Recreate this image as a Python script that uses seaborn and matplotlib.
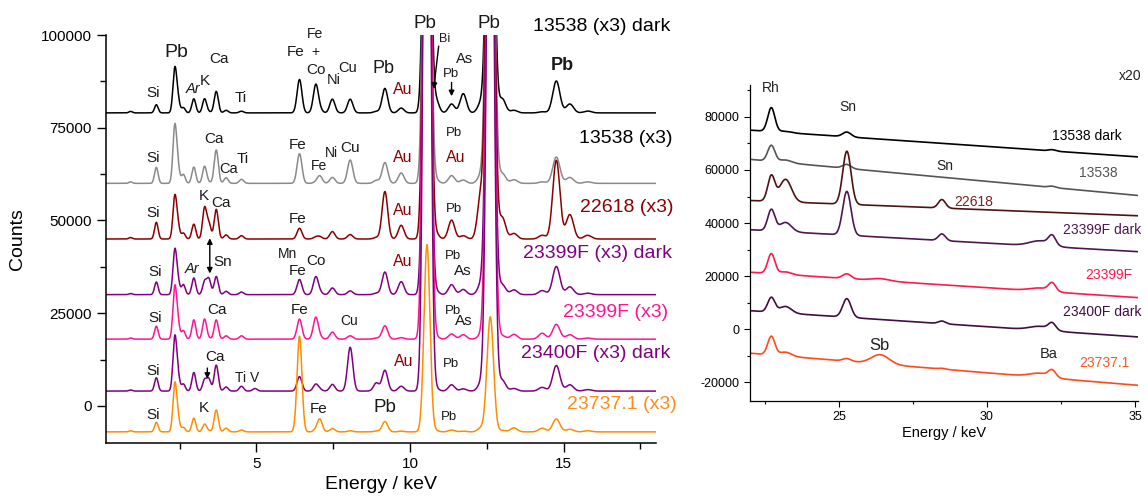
import numpy as np
import pandas as pd
import matplotlib.pyplot as plt
import seaborn as sns

sns.set_theme(style='ticks')
plt.rcParams['font.family'] = ['Liberation Sans', 'DejaVu Sans']
plt.rcParams['axes.unicode_minus'] = False

# ---- left panel: XRF spectra, 0-18 keV (peak energies and heights)
samples = ['13538 (x3) dark', '13538 (x3)', '22618 (x3)', '23399F (x3) dark',
           '23399F (x3)', '23400F (x3) dark', '23737.1 (x3)']
offsets = [79000, 60000, 45000, 30000, 18000, 4000, -7000]

lines_keV = [0.9, 1.74, 2.34, 2.44, 2.62, 2.96, 3.31, 3.45, 3.69, 4.01, 4.51, 4.95,
             6.40, 6.93, 7.06, 7.47, 8.05, 8.90, 9.18, 9.71, 10.55, 10.84, 11.35,
             11.73, 12.30, 12.61, 13.00, 13.38, 14.30, 14.76, 15.20, 15.78]

h_13538_dark = [400, 2200, 11500, 3500, 1400, 3800, 3800, 300, 5800, 700, 450, 0,
                9000, 7500, 900, 3700, 3700, 400, 6600, 1300, 150000, 3500, 2400,
                5200, 2500, 130000, 3800, 700, 300, 8600, 2400, 500]
h_13538 = [400, 4300, 15000, 4000, 2400, 4400, 4600, 300, 9000, 1500, 1100, 0,
           8000, 300, 2000, 1600, 6300, 800, 5600, 2800, 200000, 1000, 2100,
           900, 2000, 180000, 2700, 1000, 400, 7100, 1600, 400]
h_22618 = [400, 4500, 11000, 3500, 1600, 4000, 8300, 4100, 8000, 1100, 900, 0,
           2900, 500, 600, 2000, 1200, 400, 12800, 3700, 220000, 1500, 5100,
           900, 11500, 200000, 5800, 1500, 1000, 21200, 6600, 1000]
h_23399F_dark = [300, 3400, 11500, 3500, 2700, 4500, 3500, 4200, 4900, 900, 700, 0,
                 4100, 4700, 600, 1800, 1000, 400, 6100, 3500, 220000, 1000, 2700,
                 1400, 2500, 200000, 2700, 1300, 1100, 7600, 2100, 400]
h_23399F = [300, 3500, 13500, 4000, 2300, 5200, 5400, 300, 5200, 900, 900, 0,
            5400, 5800, 500, 1900, 900, 300, 3600, 400, 300000, 700, 1400,
            1200, 1000, 200000, 900, 1300, 1600, 4000, 1200, 300]
h_23400F_dark = [300, 3600, 14000, 4000, 1900, 5000, 3000, 3200, 7000, 1100, 1300, 700,
                 3900, 1800, 400, 1800, 11800, 2200, 5600, 1300, 260000, 700, 1700,
                 600, 1800, 200000, 2900, 700, 1000, 6900, 1700, 400]
h_23737 = [300, 2600, 12500, 3500, 1200, 3700, 2100, 300, 5900, 1000, 500, 0,
           25800, 400, 3400, 900, 300, 200, 2800, 200, 50500, 300, 500,
           200, 1000, 31000, 400, 1100, 1000, 3500, 700, 300]
left_heights = [h_13538_dark, h_13538, h_22618, h_23399F_dark, h_23399F, h_23400F_dark, h_23737]
left_colors = ['#000000', '#8a8a8a', '#8b0000', '#800080', '#ff1493', '#800080', '#ff8c00']
label_colors = ['#000000', '#000000', '#8b0000', '#800080', '#ff1493', '#800080', '#ff8c1a']

# ---- right panel: 22-35 keV, x20
r_samples = ['13538 dark', '13538', '22618', '23399F dark', '23399F', '23400F dark', '23737.1']
r_lines = [22.72, 23.20, 25.27, 26.40, 28.48, 31.80, 32.20]
r_bg_start = [75000, 64000, 48500, 37500, 21500, 7000, -9000]
r_bg_end = [65000, 50500, 42800, 29300, 12000, -2800, -21000]
r_h_13538_dark = [9000, 500, 1800, 0, 0, 0, 500]
r_h_13538 = [6000, 1000, 1500, 0, 0, 0, 500]
r_h_22618 = [9500, 8500, 20000, 0, 3200, 0, 0]
r_h_23399F_dark = [8000, 3500, 16500, 0, 2500, 2000, 3500]
r_h_23399F = [7500, 1000, 1800, 800, 0, 1200, 3000]
r_h_23400F_dark = [5500, 2500, 7000, 0, 1000, 1500, 2500]
r_h_23737 = [7000, 1500, 1000, 3500, 300, 1500, 2500]
r_heights = [r_h_13538_dark, r_h_13538, r_h_22618, r_h_23399F_dark, r_h_23399F,
             r_h_23400F_dark, r_h_23737]
r_colors = ['#000000', '#555555', '#4f1212', '#4d1850', '#ff1a4d', '#3f0f40', '#ff4a1a']
r_label_colors = ['#000000', '#555555', '#7a2020', '#4d1850', '#ff1a4d', '#3f0f40', '#ff5522']
r_widths = [0.12, 0.2, 0.14, 0.3, 0.12, 0.35, 0.12]


def spectrum(e, centers, heights, widths, base):
    y = np.array(base, dtype=float) * np.ones_like(e)
    for c, h, w in zip(centers, heights, widths):
        y += h * np.exp(-0.5 * ((e - c) / w) ** 2)
    return y


e_left = np.linspace(0.1, 18, 4000)
left_w = [0.05 + 0.0045 * c for c in lines_keV]
frames = []
for name, off, hs in zip(samples, offsets, left_heights):
    frames.append(pd.DataFrame({'E': e_left, 'C': spectrum(e_left, lines_keV, hs, left_w, off),
                                'sample': name}))
df_left = pd.concat(frames)

e_right = np.linspace(22, 35.1, 2000)
frames = []
for name, b0, b1, hs in zip(r_samples, r_bg_start, r_bg_end, r_heights):
    bg = b0 + (b1 - b0) * (e_right - 22) / 13.0
    frames.append(pd.DataFrame({'E': e_right, 'C': spectrum(e_right, r_lines, hs, r_widths, bg),
                                'sample': name}))
df_right = pd.concat(frames)

fig = plt.figure(figsize=(11.48, 5.0), dpi=100)
ax1 = fig.add_axes([0.0923, 0.114, 0.479, 0.816])
ax2 = fig.add_axes([0.6533, 0.198, 0.338, 0.632])

sns.lineplot(data=df_left, x='E', y='C', hue='sample', hue_order=samples,
             palette=dict(zip(samples, left_colors)), estimator=None, sort=False,
             legend=False, linewidth=1.1, ax=ax1)
ax1.set_xlim(0.1, 18)
ax1.set_ylim(-10000, 100000)
ax1.set_xticks([5, 10, 15])
ax1.set_xticks([2.5, 7.5, 12.5, 17.5], minor=True)
ax1.set_yticks([0, 25000, 50000, 75000, 100000])
ax1.set_yticks([12500, 37500, 62500, 87500], minor=True)
ax1.tick_params(which='major', length=6.5, width=1, labelsize=11, color='black', labelcolor='black')
ax1.tick_params(which='minor', length=4, width=1, color='black')
ax1.set_xlabel('Energy / keV', fontsize=14, color='black')
ax1.set_ylabel('Counts', fontsize=14, color='black', labelpad=11)
for s in ['top', 'right']:
    ax1.spines[s].set_visible(False)
for s in ['left', 'bottom']:
    ax1.spines[s].set_linewidth(1.1)
    ax1.spines[s].set_color('black')

dr = '#8b0000'
left_labels = [
    ('Pb', 2.39, 95200, 14, 'k', 'normal', 'normal'),
    ('Si', 1.64, 84400, 11, 'k', 'normal', 'normal'),
    ('Ar', 2.92, 85500, 10.5, 'k', 'normal', 'italic'),
    ('K', 3.32, 87600, 11, 'k', 'normal', 'normal'),
    ('Ca', 3.77, 93500, 11, 'k', 'normal', 'normal'),
    ('Ti', 4.48, 83000, 11, 'k', 'normal', 'normal'),
    ('Fe', 6.27, 95400, 11, 'k', 'normal', 'normal'),
    ('Fe', 6.92, 100300, 10, 'k', 'normal', 'normal'),
    ('+', 6.92, 95400, 10, 'k', 'normal', 'normal'),
    ('Co', 6.92, 90600, 11, 'k', 'normal', 'normal'),
    ('Ni', 7.52, 87900, 10.5, 'k', 'normal', 'normal'),
    ('Cu', 7.97, 91100, 10.5, 'k', 'normal', 'normal'),
    ('Si', 1.64, 66900, 11, 'k', 'normal', 'normal'),
    ('Ca', 3.61, 72000, 11, 'k', 'normal', 'normal'),
    ('Ca', 4.10, 64000, 10.5, 'k', 'normal', 'normal'),
    ('Ti', 4.55, 66700, 11, 'k', 'normal', 'normal'),
    ('Fe', 6.35, 70400, 11, 'k', 'normal', 'normal'),
    ('Fe', 7.03, 64800, 10, 'k', 'normal', 'normal'),
    ('Ni', 7.44, 68300, 10, 'k', 'normal', 'normal'),
    ('Cu', 8.03, 69400, 11, 'k', 'normal', 'normal'),
    ('Si', 1.64, 51900, 11, 'k', 'normal', 'normal'),
    ('K', 3.28, 56700, 11, 'k', 'normal', 'normal'),
    ('Ca', 3.83, 54800, 11, 'k', 'normal', 'normal'),
    ('Fe', 6.35, 50500, 11, 'k', 'normal', 'normal'),
    ('Pb', 10.47, 103200, 13.5, 'k', 'normal', 'normal'),
    ('Pb', 12.56, 103000, 13.5, 'k', 'normal', 'normal'),
    ('Bi', 11.12, 98900, 9, 'k', 'normal', 'normal'),
    ('As', 11.78, 93500, 10.5, 'k', 'normal', 'normal'),
    ('Pb', 11.32, 89500, 9.5, 'k', 'normal', 'normal'),
    ('Pb', 9.14, 90900, 13, 'k', 'normal', 'normal'),
    ('Au', 9.75, 85200, 11.5, dr, 'normal', 'normal'),
    ('Pb', 14.97, 91700, 13, 'k', 'bold', 'normal'),
    ('Pb', 11.42, 73700, 9.5, 'k', 'normal', 'normal'),
    ('Au', 9.75, 66900, 11.5, dr, 'normal', 'normal'),
    ('Au', 11.48, 66900, 11.5, dr, 'normal', 'normal'),
    ('Au', 9.75, 52700, 11.5, dr, 'normal', 'normal'),
    ('Pb', 11.42, 53200, 9.5, 'k', 'normal', 'normal'),
    ('Mn', 6.02, 40900, 10, 'k', 'normal', 'normal'),
    ('Fe', 6.35, 36300, 11, 'k', 'normal', 'normal'),
    ('Co', 6.92, 39200, 11, 'k', 'normal', 'normal'),
    ('Si', 1.71, 36000, 11, 'k', 'normal', 'normal'),
    ('Ar', 2.91, 36800, 10.5, 'k', 'normal', 'italic'),
    ('Sn', 3.89, 38700, 11, 'k', 'normal', 'normal'),
    ('Si', 1.71, 23650, 11, 'k', 'normal', 'normal'),
    ('Ca', 3.70, 25800, 11, 'k', 'normal', 'normal'),
    ('Fe', 6.40, 25800, 11, 'k', 'normal', 'normal'),
    ('Cu', 8.03, 22800, 10, 'k', 'normal', 'normal'),
    ('Si', 1.64, 9400, 11, 'k', 'normal', 'normal'),
    ('Ca', 3.66, 13200, 11, 'k', 'normal', 'normal'),
    ('Ti V', 4.70, 7500, 10, 'k', 'normal', 'normal'),
    ('Si', 1.64, -2400, 11, 'k', 'normal', 'normal'),
    ('K', 3.28, -540, 11, 'k', 'normal', 'normal'),
    ('Fe', 7.02, -800, 11, 'k', 'normal', 'normal'),
    ('Au', 9.75, 39000, 11.5, dr, 'normal', 'normal'),
    ('Pb', 11.38, 40300, 9.5, 'k', 'normal', 'normal'),
    ('As', 11.71, 36300, 11, 'k', 'normal', 'normal'),
    ('Pb', 11.38, 25500, 9.5, 'k', 'normal', 'normal'),
    ('As', 11.74, 22800, 11, 'k', 'normal', 'normal'),
    ('Au', 9.78, 12100, 11.5, dr, 'normal', 'normal'),
    ('Pb', 11.32, 11300, 9.5, 'k', 'normal', 'normal'),
    ('Pb', 9.17, -540, 13.5, 'k', 'normal', 'normal'),
    ('Pb', 11.25, -3000, 9.5, 'k', 'normal', 'normal'),
]
for t, x, y, fs, c, fw, st in left_labels:
    ax1.text(x, y, t, fontsize=fs, color=c, fontweight=fw, fontstyle=st,
             ha='center', va='center', clip_on=False)

name_pos = [(14.00, 102400), (15.50, 72000), (15.52, 53500), (13.68, 41100),
            (14.98, 25300), (13.61, 14250), (15.10, 270)]
for name, (x, y), c in zip(samples, name_pos, label_colors):
    ax1.text(x, y, name, fontsize=14, color=c, ha='left', va='center', clip_on=False)

arrow = dict(lw=1, color='black', shrinkA=0, shrinkB=0, mutation_scale=8)
ax1.annotate('', xy=(3.48, 45200), xytext=(3.48, 35700), arrowprops=dict(arrowstyle='<|-|>', **arrow))
ax1.annotate('', xy=(10.77, 85500), xytext=(10.93, 97000), arrowprops=dict(arrowstyle='-|>', **arrow))
ax1.annotate('', xy=(11.35, 83500), xytext=(11.35, 87200), arrowprops=dict(arrowstyle='-|>', **arrow))
ax1.annotate('', xy=(3.40, 7300), xytext=(3.40, 10200), arrowprops=dict(arrowstyle='-|>', **arrow))

# ---- right panel
sns.lineplot(data=df_right, x='E', y='C', hue='sample', hue_order=r_samples,
             palette=dict(zip(r_samples, r_colors)), estimator=None, sort=False,
             legend=False, linewidth=1.2, ax=ax2)
ax2.set_xlim(22, 35.1)
ax2.set_ylim(-27000, 92000)
ax2.set_xticks([25, 30, 35])
ax2.set_xticks([22.5, 27.5, 32.5], minor=True)
ax2.set_yticks([-20000, 0, 20000, 40000, 60000, 80000])
ax2.set_yticks([-10000, 10000, 30000, 50000, 70000, 90000], minor=True)
ax2.tick_params(which='major', length=4, width=0.8, labelsize=9, color='black', labelcolor='black')
ax2.tick_params(which='minor', length=2.5, width=0.8, color='black')
ax2.set_xlabel('Energy / keV', fontsize=10.5, color='black', labelpad=2)
ax2.set_ylabel('')
for s in ['top', 'right']:
    ax2.spines[s].set_visible(False)
for s in ['left', 'bottom']:
    ax2.spines[s].set_linewidth(0.9)
    ax2.spines[s].set_color('black')

right_labels = [('Rh', 22.71, 91000, 10), ('Sn', 25.30, 83800, 10), ('Sn', 28.57, 61500, 10),
                ('x20', 34.83, 95500, 10), ('Sb', 26.38, -6000, 12), ('Ba', 32.07, -9400, 10.5)]
for t, x, y, fs in right_labels:
    ax2.text(x, y, t, fontsize=fs, color='#222222', ha='center', va='center', clip_on=False)

r_name_pos = [(33.38, 72800), (33.76, 58900), (29.55, 47900), (33.90, 37400),
              (34.12, 20400), (33.90, 6400), (33.96, -12800)]
for name, (x, y), c in zip(r_samples, r_name_pos, r_label_colors):
    ax2.text(x, y, name, fontsize=10, color=c, ha='center', va='center', clip_on=False)

fig.savefig('out.png', dpi=100)
